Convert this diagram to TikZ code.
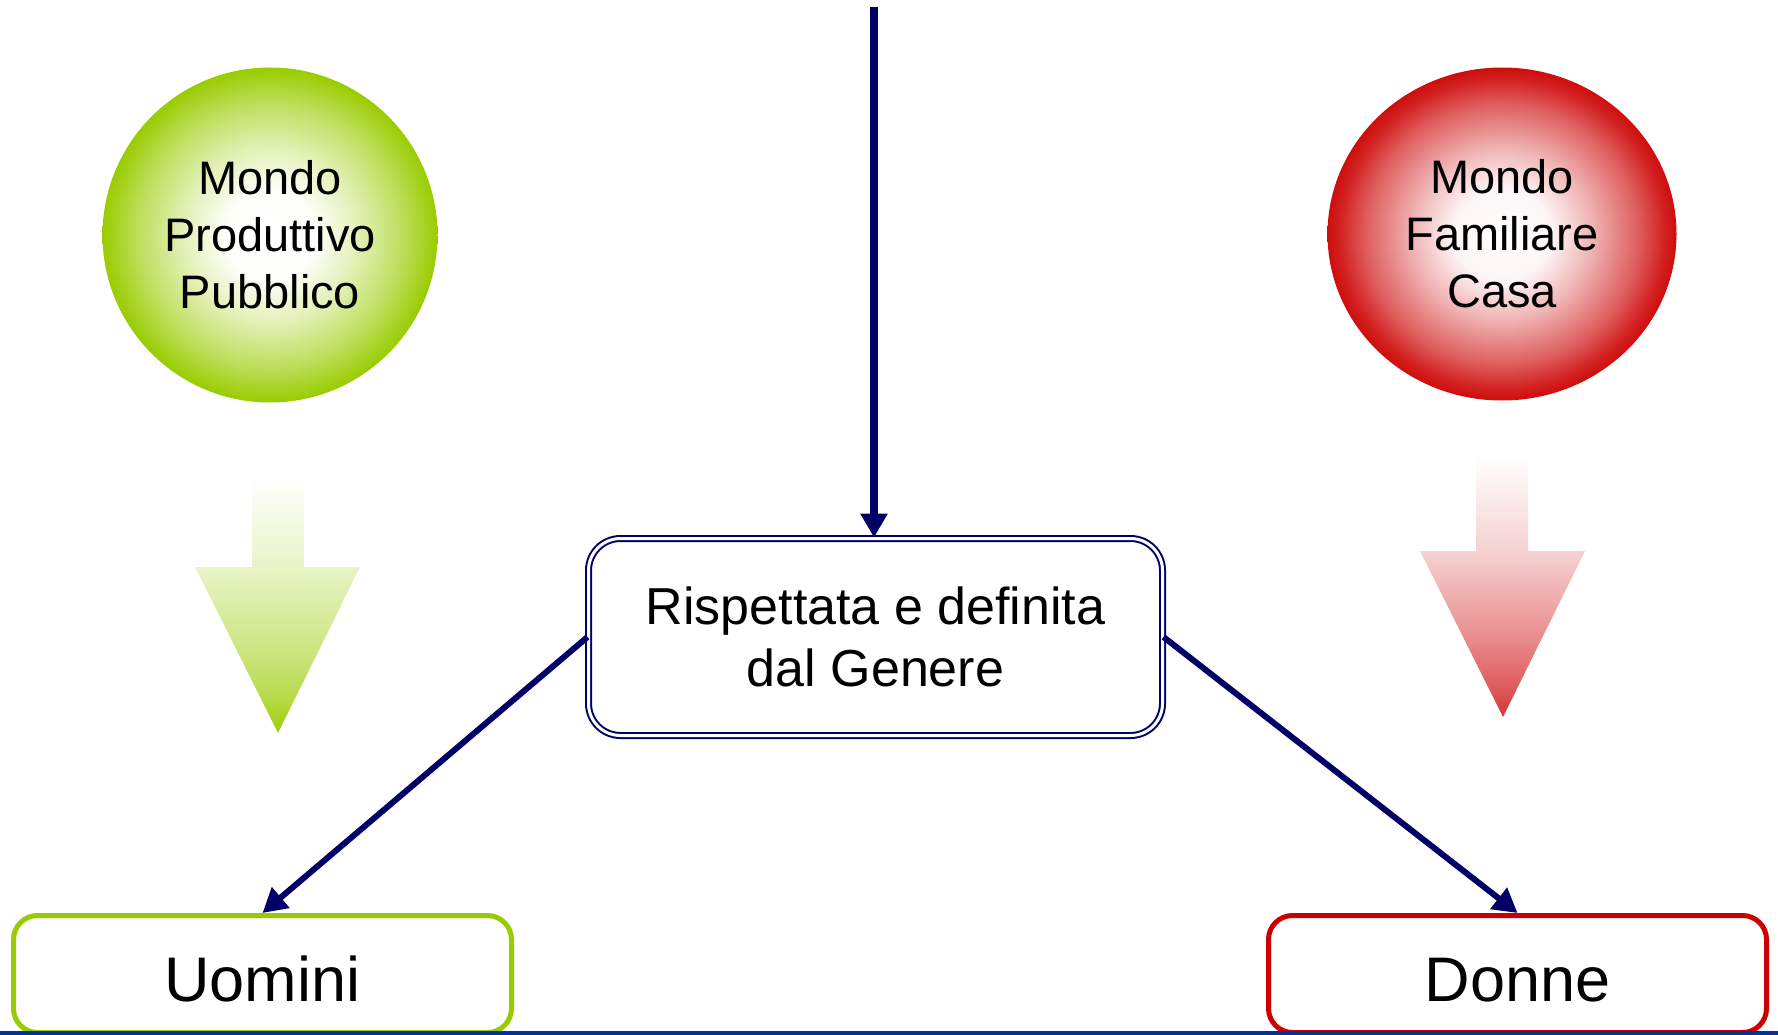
\documentclass[tikz,border=0pt]{standalone}
\usepackage{fontspec}
\setmainfont{Liberation Sans}
\usetikzlibrary{arrows.meta,shapes.geometric}
\definecolor{navy}{HTML}{000066}
\definecolor{gr}{HTML}{99CC00}
\definecolor{rd}{HTML}{CC0000}
\definecolor{bl}{HTML}{003399}
\pgfdeclareradialshading{greenball}{\pgfpoint{0bp}{0bp}}{color(0bp)=(white); color(7bp)=(gr!3); color(12.75bp)=(gr!27); color(19.5bp)=(gr!63); color(23.25bp)=(gr!88); color(25bp)=(gr); color(50bp)=(gr)}
\pgfdeclareradialshading{redball}{\pgfpoint{0bp}{0bp}}{color(0bp)=(white); color(7bp)=(rd!4); color(12.75bp)=(rd!29); color(19.5bp)=(rd!63); color(23.25bp)=(rd!87); color(25bp)=(rd!95); color(50bp)=(rd!95)}
\pgfdeclareverticalshading{greenarrow}{100bp}{color(0bp)=(gr!95); color(25bp)=(gr!95); color(32.5bp)=(gr!70); color(41bp)=(gr!50); color(57.5bp)=(gr!22); color(75bp)=(white); color(100bp)=(white)}
\pgfdeclareverticalshading{redarrow}{100bp}{color(0bp)=(rd!80); color(25bp)=(rd!80); color(30bp)=(rd!66); color(40bp)=(rd!45); color(56.5bp)=(rd!18); color(75bp)=(white); color(100bp)=(white)}
\begin{document}
\begin{tikzpicture}[x=1pt,y=-1pt,
  ball/.style={inner sep=0pt, align=center, font=\fontsize{47}{57}\selectfont},
  genbox/.style={rectangle, rounded corners=32pt, draw=navy, line width=2pt, double=white, double distance=3pt,
    minimum width=574pt, minimum height=197pt, align=center, fill=white, font=\fontsize{52}{62}\selectfont},
  outbox/.style={rectangle, rounded corners=24pt, line width=5pt, fill=white,
    minimum width=498pt, minimum height=117pt, text height=54pt, text depth=0pt,
    font=\fontsize{63}{70}\selectfont},
  conn/.style={draw=navy, line width=6pt, -{Triangle[length=24pt,width=26pt]}}
]
\useasboundingbox (0,0) rectangle (1778,1035);
% world circles
\node[ball, circle, shade, shading=greenball, minimum size=335pt] (prod) at (270,235) {Mondo\\Produttivo\\Pubblico};
\node[ball, ellipse, shade, shading=redball, minimum width=349pt, minimum height=333pt] (fam) at (1502,234) {Mondo\\Familiare\\Casa};
% gradient arrows
\path[shade, shading=greenarrow] (252,477) -- (304,477) -- (304,567) -- (360,567) -- (278,733) -- (195,567) -- (252,567) -- cycle;
\path[shade, shading=redarrow] (1476,455) -- (1528,455) -- (1528,551) -- (1585,551) -- (1503,717) -- (1420,551) -- (1476,551) -- cycle;
% boxes
\node[genbox] (gen) at (875.5,637) {Rispettata e definita\\dal Genere};
\node[outbox, draw=gr] (uom) at (262.5,974) {Uomini};
\node[outbox, draw=rd] (don) at (1517.5,974) {Donne};
% connectors
\coordinate (top) at (874,7);
\draw[conn, line width=8pt] (top) -- (top |- gen.north);
\draw[conn] (gen.west) -- (uom.north);
\draw[conn] (gen.east) -- (don.north);
% bottom rule
\draw[bl, line width=4pt] (0,1033) -- (1778,1033);
\end{tikzpicture}
\end{document}
